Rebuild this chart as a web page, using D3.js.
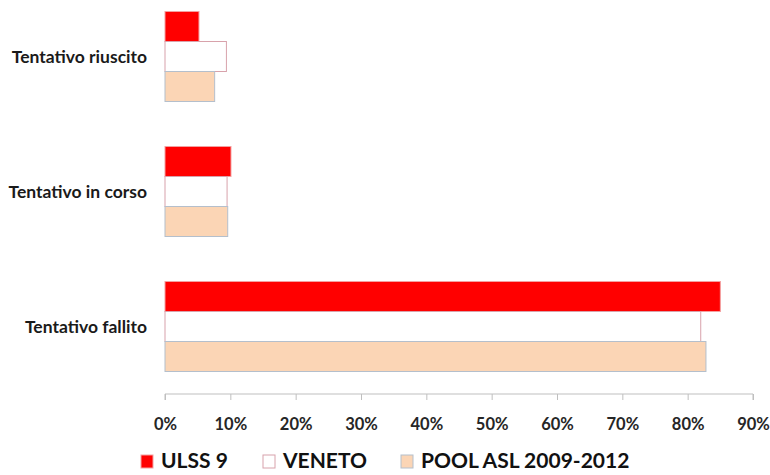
<!DOCTYPE html>
<html>
<head>
<meta charset="utf-8">
<script src="https://cdn.jsdelivr.net/npm/d3@7"></script>
<style>
  body { margin: 0; background: #fff; }
  svg { display: block; }
</style>
</head>
<body>
<div id="chart"></div>
<script>
// Data
const categories = ["Tentativo riuscito", "Tentativo in corso", "Tentativo fallito"];
const seriesNames = ["ULSS 9", "VENETO", "POOL ASL 2009-2012"];
const ulss9 = [5.2, 10.1, 85.0];
const veneto = [9.4, 9.5, 82.0];
const pool = [7.6, 9.6, 82.8];
const xTicks = [0, 10, 20, 30, 40, 50, 60, 70, 80, 90];

const fills = ["#ff0000", "#ffffff", "#fbd5b5"];
const strokes = ["#f4a0a0", "#d8a2ab", "#b4bfcc"];

const W = 770, H = 475;
const plot = { left: 165, right: 753, top: -11, bottom: 394 };
const font = "Lato, 'Open Sans', sans-serif";

const svg = d3.select("#chart").append("svg")
    .attr("width", W)
    .attr("height", H);

const x = d3.scaleLinear()
    .domain([0, 90])
    .range([plot.left, plot.right]);

const y = d3.scaleBand()
    .domain(categories)
    .range([plot.top, plot.bottom])
    .paddingInner(1 / 3)
    .paddingOuter(1 / 6);

const ySub = d3.scaleBand()
    .domain(seriesNames)
    .range([0, y.bandwidth()]);

const rows = categories.map((c, i) => ({
    category: c,
    values: [ulss9[i], veneto[i], pool[i]]
}));

// Bars
const groups = svg.selectAll("g.group")
    .data(rows)
    .join("g")
    .attr("class", "group")
    .attr("transform", d => `translate(0,${y(d.category)})`);

groups.selectAll("rect")
    .data(d => d.values.map((v, j) => ({ v, j })))
    .join("rect")
    .attr("x", x(0))
    .attr("y", d => ySub(seriesNames[d.j]))
    .attr("width", d => x(d.v) - x(0))
    .attr("height", ySub.bandwidth())
    .attr("fill", d => fills[d.j])
    .attr("stroke", d => strokes[d.j])
    .attr("stroke-width", 1);

// Category labels
svg.selectAll("text.cat")
    .data(categories)
    .join("text")
    .attr("class", "cat")
    .attr("x", 147)
    .attr("y", d => y(d) + y.bandwidth() / 2)
    .attr("dy", "0.35em")
    .attr("text-anchor", "end")
    .style("font-family", font)
    .style("font-weight", "bold")
    .style("font-size", "17.5px")
    .attr("fill", "#1a1a1a")
    .text(d => d);

// X axis
const xAxis = svg.append("g")
    .attr("transform", `translate(0,${plot.bottom})`)
    .call(d3.axisBottom(x)
        .tickValues(xTicks)
        .tickSize(6)
        .tickPadding(18)
        .tickFormat(d => d + "%"));

xAxis.select(".domain")
    .attr("d", `M${x(0)},6V0H${x(90)}V6`)
    .attr("stroke", "#bfbfbf");
xAxis.selectAll(".tick line").attr("stroke", "#bfbfbf");
xAxis.selectAll(".tick text")
    .style("font-family", font)
    .style("font-weight", "bold")
    .style("font-size", "16.5px")
    .attr("fill", "#262626");

// Legend
const legendX = [141, 263, 401];
const legend = svg.append("g").attr("transform", "translate(0,461)");
seriesNames.forEach((name, j) => {
    const item = legend.append("g").attr("transform", `translate(${legendX[j]},0)`);
    item.append("rect")
        .attr("x", 0)
        .attr("y", -6)
        .attr("width", 12)
        .attr("height", 13)
        .attr("fill", fills[j])
        .attr("stroke", strokes[j]);
    item.append("text")
        .attr("x", 20)
        .attr("dy", "0.35em")
        .style("font-family", font)
        .style("font-weight", "bold")
        .style("font-size", "21px")
        .attr("fill", "#111")
        .text(name);
});
</script>
</body>
</html>
